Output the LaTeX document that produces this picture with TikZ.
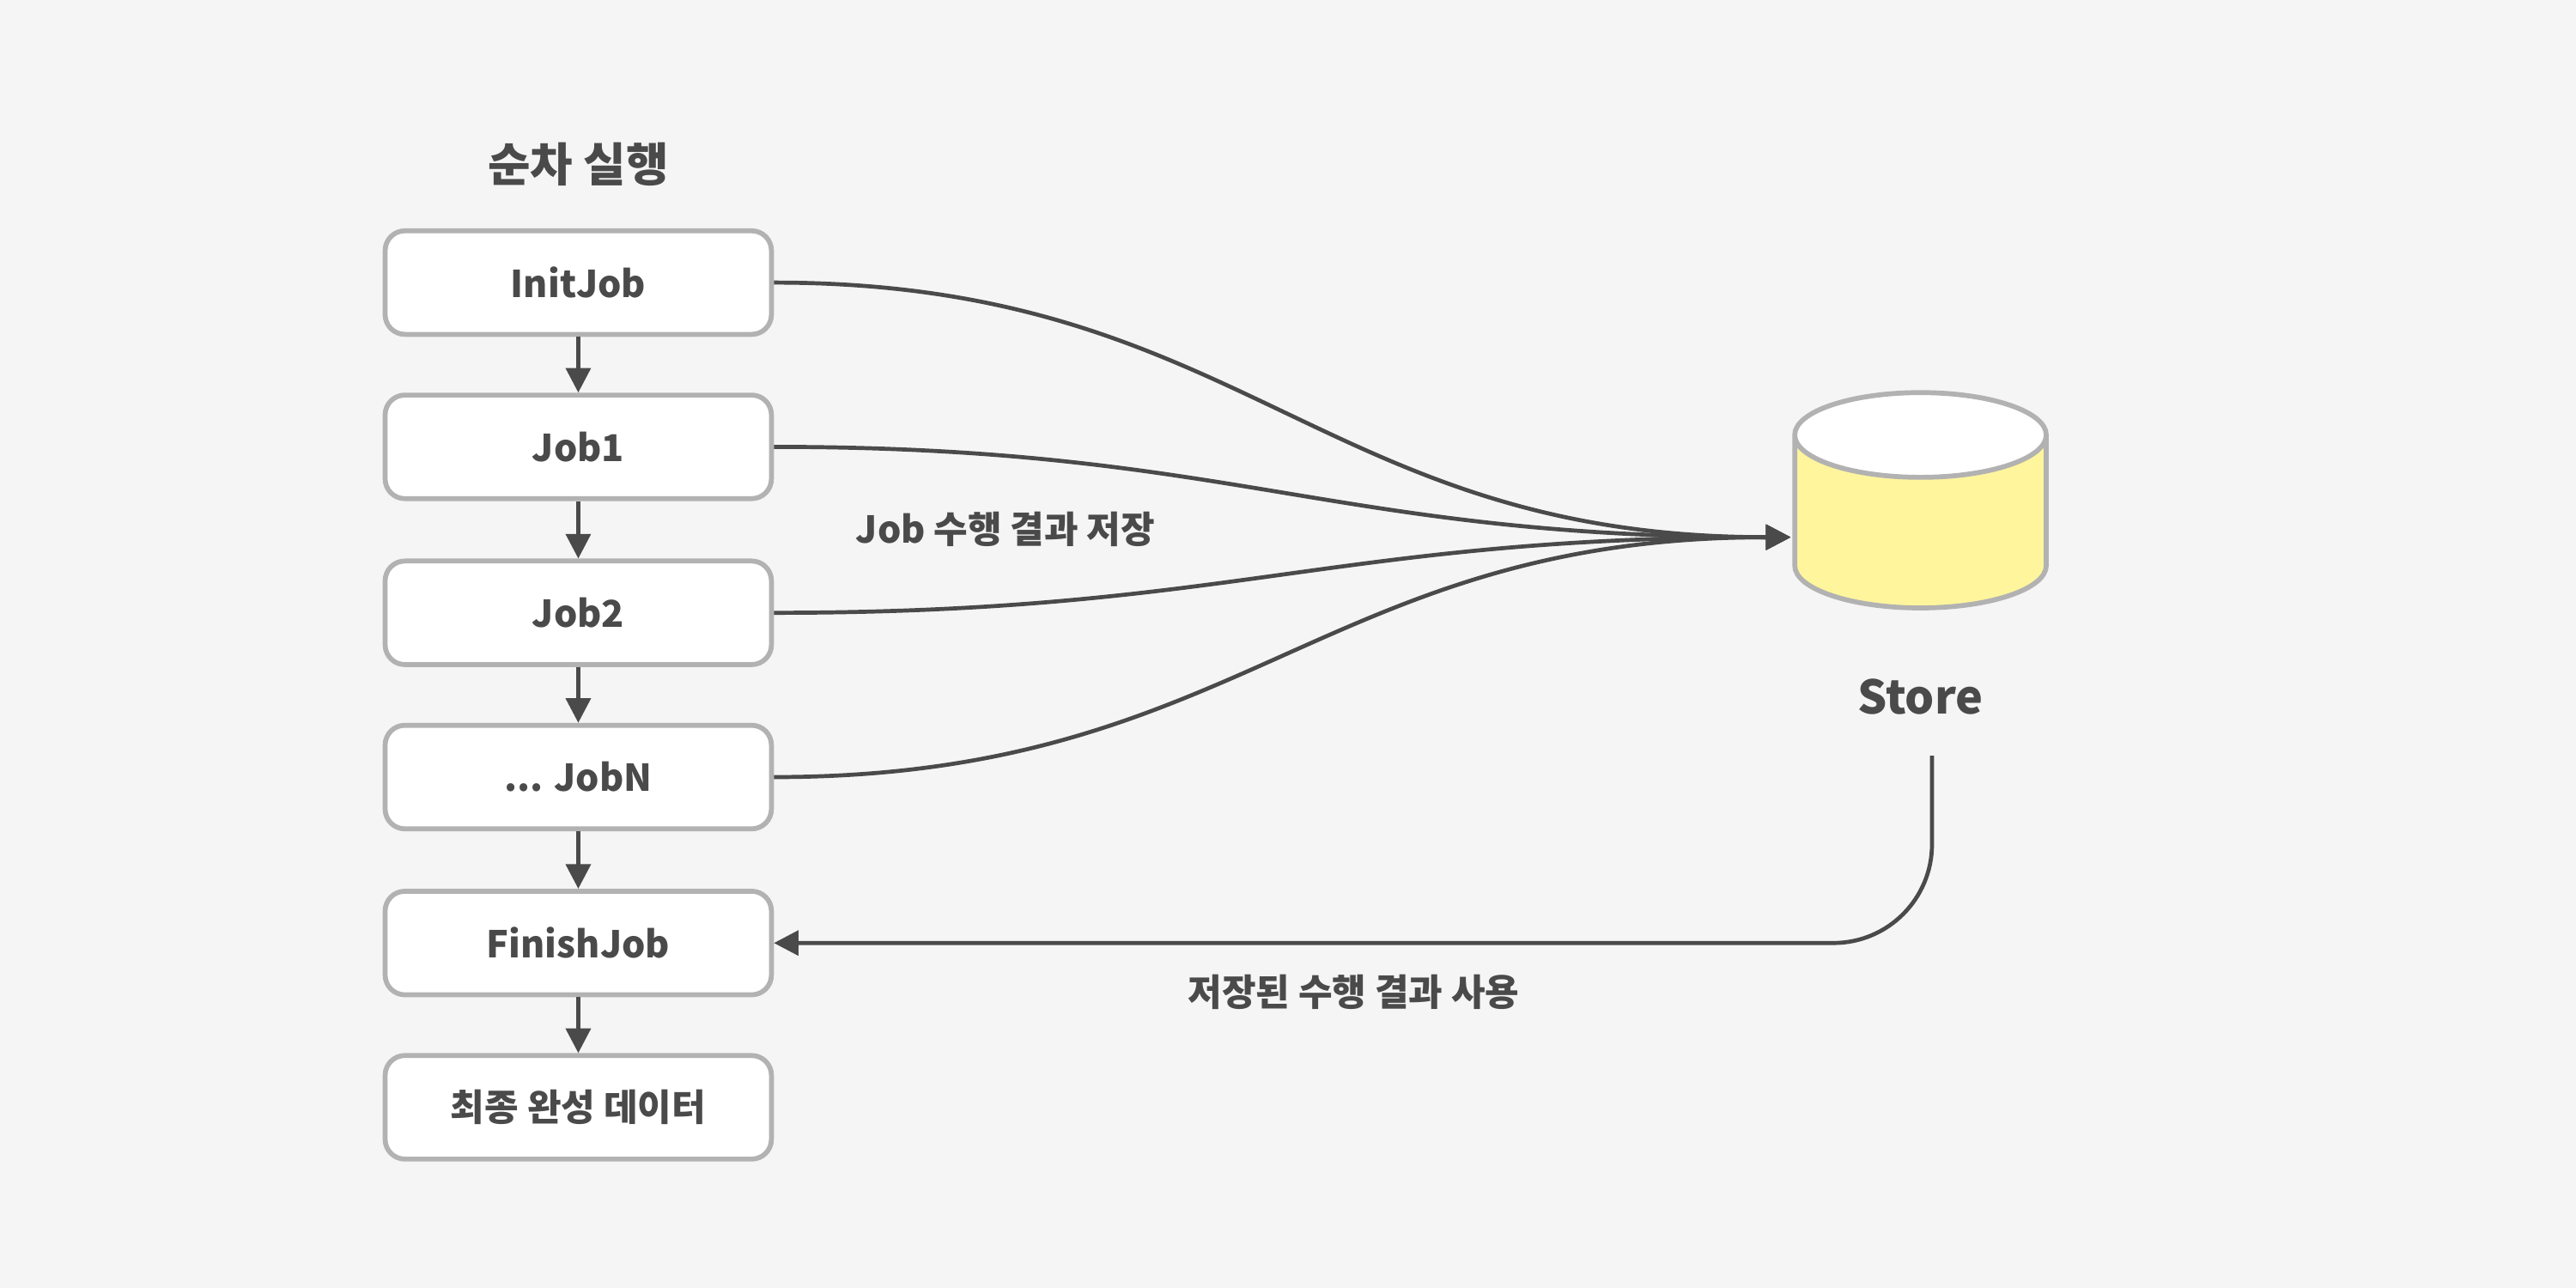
\documentclass[tikz,border=0pt]{standalone}
\usepackage{fontspec}
\setmainfont{Noto Sans CJK KR}
\usetikzlibrary{shapes.geometric,arrows.meta,positioning}

\begin{document}
\begin{tikzpicture}[x=0.01cm,y=-0.01cm]
    % Definizione colori
    \definecolor{bgcol}{RGB}{245,245,245}
    \definecolor{edgecol}{RGB}{178,178,178}
    \definecolor{inkcol}{RGB}{74,74,74}
    \definecolor{storecol}{RGB}{255,245,157}
    \tikzset{
        jobbox/.style={draw=edgecol, line width=0.85pt, fill=white, rounded corners=0.12cm,
            minimum width=2.35cm, minimum height=0.63cm, text=inkcol, font=\fontsize{6.4}{7}\selectfont\bfseries},
        flow/.style={draw=inkcol, line width=0.7pt, -{Triangle[length=0.15cm,width=0.15cm]}},
        lbl/.style={text=inkcol, font=\fontsize{6.4}{7}\selectfont\bfseries}
    }
    \fill[bgcol] (0,0) rectangle (1568,784);

    % Colonna dei job
    \node[lbl, font=\fontsize{8}{9}\selectfont\bfseries] (title) at (352,100) {순차 실행};
    \node[jobbox] (initjob) at (352,172) {InitJob};
    \node[jobbox] (job1) at (352,272) {Job1};
    \node[jobbox] (job2) at (352,373) {Job2};
    \node[jobbox] (jobn) at (352,473) {... JobN};
    \node[jobbox] (finish) at (352,574) {FinishJob};
    \node[jobbox] (result) at (352,674) {최종 완성 데이터};
    \foreach \a/\b in {initjob/job1, job1/job2, job2/jobn, jobn/finish, finish/result}
        \draw[flow] (\a.south) -- (\b.north);

    % Store
    \node[cylinder, shape border rotate=90, aspect=2.2, draw=edgecol, line width=0.85pt,
        cylinder uses custom fill, cylinder body fill=storecol, cylinder end fill=white,
        minimum width=1.53cm, minimum height=1.31cm] (store) at (1169,325) {};
    \node[lbl, font=\fontsize{8}{9}\selectfont\bfseries] (storelbl) at (1169,424) {Store};
    \coordinate (in) at (1090,327);

    % Salvataggio dei risultati
    \foreach \j in {initjob, job1, job2, jobn}
        \draw[flow] (\j.east) to[out=0, in=180, looseness=1.15] (in);
    \node[lbl] (savelbl) at (612,322) {Job 수행 결과 저장};

    % Uso dei risultati
    \coordinate (ret) at (1176,460);
    \draw[flow, rounded corners=0.6cm] (ret) |- (finish.east);
    \node[lbl] (uselbl) at (824,604) {저장된 수행 결과 사용};
\end{tikzpicture}
\end{document}
